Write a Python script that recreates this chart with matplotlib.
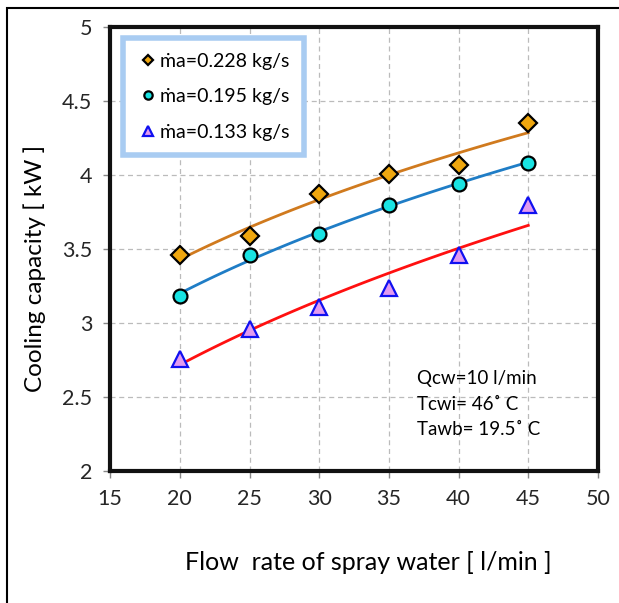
import numpy as np
import matplotlib
matplotlib.use("Agg")
import matplotlib.pyplot as plt
from matplotlib.patches import Rectangle

flow = np.array([20, 25, 30, 35, 40, 45])
q_228 = np.array([3.46, 3.59, 3.87, 4.01, 4.07, 4.35])
q_195 = np.array([3.18, 3.46, 3.60, 3.80, 3.94, 4.08])
q_133 = np.array([2.76, 2.96, 3.11, 3.24, 3.46, 3.80])
labels = ["ṁa=0.228 kg/s", "ṁa=0.195 kg/s", "ṁa=0.133 kg/s"]
x_ticks = [15, 20, 25, 30, 35, 40, 45, 50]
y_ticks = [2, 2.5, 3, 3.5, 4, 4.5, 5]

plt.rcParams['font.family'] = ['Lato', 'DejaVu Sans']

fig = plt.figure(figsize=(6.19, 6.03), dpi=100)
ax = fig.add_axes([0.178, 0.219, 0.788, 0.736])

# outer frame around the figure
fig.patches.append(Rectangle((0.011, -0.05), 1.1, 1.037, transform=fig.transFigure,
                             fill=False, edgecolor='black', linewidth=1.5))


def power_fit(x, y):
    b, loga = np.polyfit(np.log(x), np.log(y), 1)
    xs = np.linspace(x.min(), x.max(), 50)
    return xs, np.exp(loga) * xs ** b


series = [
    (q_228, 'D', '#EFA70F', 'black', '#D07A1E', 9),
    (q_195, 'o', '#19E3E3', 'black', '#1F7DC6', 10),
    (q_133, '^', '#E39BF0', '#1010F0', '#FF1010', 12),
]
handles = []
for (vals, mk, fc, ec, lc, ms), lab in zip(series, labels):
    xs, ys = power_fit(flow, vals)
    ax.plot(xs, ys, color=lc, linewidth=2, zorder=3)
    h, = ax.plot(flow, vals, linestyle='none', marker=mk, markersize=ms,
                 markerfacecolor=fc, markeredgecolor=ec, markeredgewidth=1.6,
                 zorder=4, label=lab)
    handles.append(h)

ax.set_xlim(15, 50)
ax.set_ylim(2, 5)
ax.set_xticks(x_ticks)
ax.set_yticks(y_ticks)
ax.set_yticklabels([f"{v:g}" for v in y_ticks])
ax.tick_params(labelsize=15.5, length=5, width=1, color='#888888', direction='out',
               pad=8, labelcolor='#262626')
ax.grid(True, linestyle=(0, (4, 3)), color='#BBBBBB', linewidth=0.9)
for s in ax.spines.values():
    s.set_linewidth(3)
    s.set_color('#111111')

ax.set_xlabel("Flow  rate of spray water [ l/min ]", fontsize=18, va='center')
ax.xaxis.set_label_coords(0.529, -0.207)
ax.set_ylabel("Cooling capacity [ kW ]", fontsize=17.5, va='center')
ax.yaxis.set_label_coords(-0.154, 0.457)

leg = ax.legend(handles=handles, loc='upper left', bbox_to_anchor=(0.027, 0.975),
                fontsize=14, markerscale=0.6, handletextpad=0.15, handlelength=1.0,
                borderpad=0.75, labelspacing=0.95, fancybox=False, framealpha=1,
                borderaxespad=0)
leg.get_frame().set_edgecolor('#A9CCF2')
leg.get_frame().set_linewidth(4)

ax.text(0.63, 0.227, "Qcw=10 l/min\nTcwi= 46˚ C\nTawb= 19.5˚ C",
        transform=ax.transAxes, fontsize=13.5, va='top', ha='left', linespacing=1.6)

fig.savefig("out.png", dpi=100)
